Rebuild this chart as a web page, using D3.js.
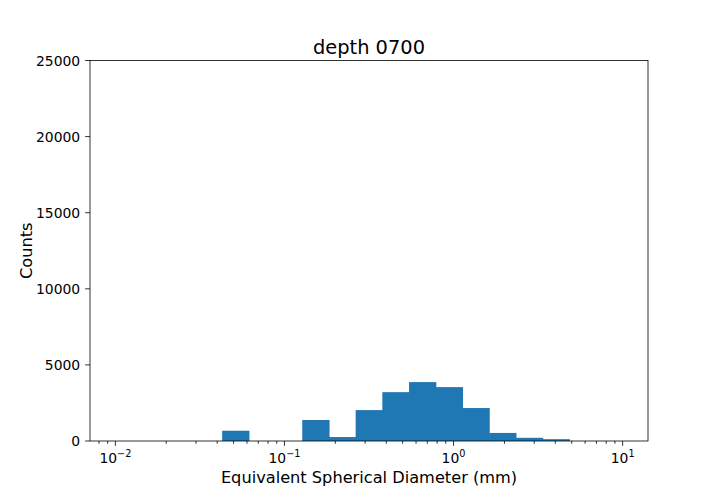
<!DOCTYPE html>
<html>
<head>
<meta charset="utf-8">
<script src="https://cdn.jsdelivr.net/npm/d3@7"></script>
<style>
  body { margin: 0; background: #fff; }
  text { font-family: "DejaVu Sans", sans-serif; fill: #000; }
</style>
</head>
<body>
<div id="chart"></div>
<script>
// histogram bin edges (log spaced, 0.01 .. 10)
const binEdges = [0.01, 0.01438, 0.02069, 0.02976, 0.04281, 0.06158, 0.08859, 0.12743,
  0.18330, 0.26367, 0.37927, 0.54556, 0.78476, 1.12884, 1.62378, 2.33572, 3.35982,
  4.83293, 6.95193, 10];
const counts = [0, 0, 0, 0, 675, 0, 0, 1380, 260, 2030, 3210, 3870, 3540, 2165, 530, 210, 120, 0, 0];
const yTicks = [0, 5000, 10000, 15000, 20000, 25000];
const xDecades = [-2, -1, 0, 1];
const title = "depth 0700";
const xLabel = "Equivalent Spherical Diameter (mm)";
const yLabel = "Counts";

const W = 720, H = 504;
const m = {left: 90, right: 648, top: 60.5, bottom: 441};

const svg = d3.select("#chart").append("svg")
    .attr("width", W).attr("height", H);

const x = d3.scaleLog().domain([Math.pow(10, -2.15), Math.pow(10, 1.15)]).range([m.left, m.right]);
const y = d3.scaleLinear().domain([0, 25000]).range([m.bottom, m.top]);

const bins = counts.map((c, i) => ({x0: binEdges[i], x1: binEdges[i + 1], c: c}));

// small overlap so neighbouring bars have no seam
svg.append("g").selectAll("rect")
    .data(bins.filter(d => d.c > 0))
    .enter().append("rect")
    .attr("x", d => x(d.x0))
    .attr("width", d => x(d.x1) - x(d.x0) + 0.6)
    .attr("y", d => y(d.c))
    .attr("height", d => y(0) - y(d.c))
    .attr("fill", "#1f77b4");

// x axis ticks
const minor = [];
for (let e = -3; e <= 1; e++) for (let k = 2; k <= 9; k++) {
  const v = k * Math.pow(10, e);
  if (v > x.domain()[0] && v < x.domain()[1]) minor.push(v);
}
const tg = svg.append("g").attr("stroke", "#000").attr("stroke-width", 0.8);
tg.selectAll("line.minor").data(minor).enter().append("line")
    .attr("x1", d => x(d)).attr("x2", d => x(d))
    .attr("y1", m.bottom).attr("y2", m.bottom + 2.8);
tg.selectAll("line.major").data(xDecades).enter().append("line")
    .attr("x1", d => x(Math.pow(10, d))).attr("x2", d => x(Math.pow(10, d)))
    .attr("y1", m.bottom).attr("y2", m.bottom + 4.9);
tg.selectAll("line.ytick").data(yTicks).enter().append("line")
    .attr("x1", m.left - 4.9).attr("x2", m.left)
    .attr("y1", d => y(d)).attr("y2", d => y(d));

const xl = svg.append("g").selectAll("text").data(xDecades).enter().append("text")
    .attr("x", d => x(Math.pow(10, d)))
    .attr("y", m.bottom + 22)
    .attr("text-anchor", "middle")
    .style("font-size", "13.9px");
xl.append("tspan").text("10");
xl.append("tspan").attr("dy", -6).style("font-size", "9.7px")
    .text(d => d < 0 ? "\u2212" + (-d) : d);

svg.append("g").selectAll("text").data(yTicks).enter().append("text")
    .attr("x", m.left - 9.8)
    .attr("y", d => y(d))
    .attr("dy", "0.36em")
    .attr("text-anchor", "end")
    .style("font-size", "13.9px")
    .text(d => d);

// spines
svg.append("rect")
    .attr("x", m.left).attr("y", m.top)
    .attr("width", m.right - m.left).attr("height", m.bottom - m.top)
    .attr("fill", "none").attr("stroke", "#000").attr("stroke-width", 0.8);

svg.append("text")
    .attr("x", (m.left + m.right) / 2).attr("y", 54)
    .attr("text-anchor", "middle")
    .style("font-size", "19.4px")
    .text(title);

svg.append("text")
    .attr("x", (m.left + m.right) / 2).attr("y", 483)
    .attr("text-anchor", "middle")
    .style("font-size", "16.2px")
    .text(xLabel);

svg.append("text")
    .attr("transform", `translate(32,${(m.top + m.bottom) / 2}) rotate(-90)`)
    .attr("text-anchor", "middle")
    .style("font-size", "16.2px")
    .text(yLabel);
</script>
</body>
</html>
